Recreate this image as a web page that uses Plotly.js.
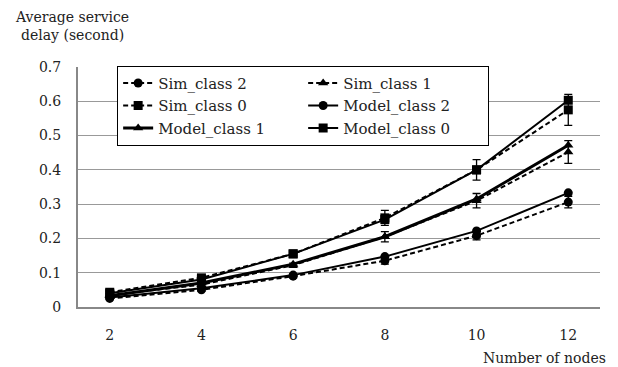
<!DOCTYPE html>
<html>
<head>
<meta charset="utf-8">
<script src="https://cdn.plot.ly/plotly-3.0.1.min.js"></script>
<style>html,body{margin:0;padding:0;background:#fff;}</style>
</head>
<body>
<div id="chart" style="width:618px;height:367px;"></div>
<script>
const nodes = ['2', '4', '6', '8', '10', '12'];
const simClass2 = [0.025, 0.050, 0.090, 0.135, 0.208, 0.306];
const simClass2Err = [0.003, 0.004, 0.005, 0.010, 0.012, 0.017];
const simClass1 = [0.035, 0.065, 0.122, 0.205, 0.310, 0.452];
const simClass1Err = [0.003, 0.004, 0.006, 0.015, 0.021, 0.033];
const simClass0 = [0.043, 0.085, 0.155, 0.260, 0.400, 0.575];
const simClass0Err = [0.003, 0.005, 0.006, 0.022, 0.030, 0.045];
const modelClass2 = [0.028, 0.055, 0.093, 0.147, 0.222, 0.333];
const modelClass1 = [0.033, 0.070, 0.125, 0.205, 0.315, 0.472];
const modelClass0 = [0.040, 0.080, 0.155, 0.255, 0.400, 0.603];

const FONT = 'DejaVu Serif';

function sim(name, y, err, symbol) {
  return {
    x: nodes, y: y, name: name, type: 'scatter', mode: 'lines+markers',
    line: {color: '#000', width: 2, dash: '5px,3px'},
    marker: {symbol: symbol, size: 9, color: '#000'},
    error_y: {type: 'data', array: err, visible: true, color: '#000', thickness: 1.3, width: 4}
  };
}
function model(name, y, symbol, w) {
  return {
    x: nodes, y: y, name: name, type: 'scatter', mode: 'lines+markers',
    line: {color: '#000', width: w},
    marker: {symbol: symbol, size: 9, color: '#000'}
  };
}

const data = [
  sim('Sim_class 2', simClass2, simClass2Err, 'circle'),
  sim('Sim_class 1', simClass1, simClass1Err, 'triangle-up'),
  sim('Sim_class 0', simClass0, simClass0Err, 'square'),
  model('Model_class 2', modelClass2, 'circle', 2),
  model('Model_class 1', modelClass1, 'triangle-up', 3),
  model('Model_class 0', modelClass0, 'square', 2)
];

const layout = {
  width: 618, height: 367,
  margin: {l: 78, r: 18, t: 67, b: 60},
  paper_bgcolor: '#fff', plot_bgcolor: '#fff',
  font: {family: FONT, size: 14, color: '#222'},
  showlegend: true,
  legend: {
    orientation: 'h', x: 0.075, xanchor: 'left', y: 1.005, yanchor: 'top',
    bgcolor: '#fff', bordercolor: '#000', borderwidth: 1,
    entrywidth: 140, entrywidthmode: 'pixels', traceorder: 'normal',
    font: {family: FONT, size: 15, color: '#222'}, tracegroupgap: 0
  },
  xaxis: {
    type: 'category', showgrid: false, showline: true, linecolor: '#888', linewidth: 2,
    ticks: '', ticklabelstandoff: 14, tickfont: {family: FONT, size: 14, color: '#222'},
    zeroline: false, fixedrange: true
  },
  yaxis: {
    range: [0, 0.7], dtick: 0.1, tick0: 0, showgrid: true, gridcolor: '#999', gridwidth: 1,
    showline: true, linecolor: '#888', linewidth: 2, ticks: '', zeroline: false,
    ticklabelstandoff: 12, tickfont: {family: FONT, size: 14, color: '#222'}, fixedrange: true
  },
  annotations: [
    {text: 'Average service<br>delay (second)', xref: 'paper', yref: 'paper', x: -0.125, y: 1.25,
     xanchor: 'left', yanchor: 'top', showarrow: false, align: 'center',
     font: {family: FONT, size: 14, color: '#222'}},
    {text: 'Number of nodes', xref: 'paper', yref: 'paper', x: 1.015, y: -0.17,
     xanchor: 'right', yanchor: 'top', showarrow: false,
     font: {family: FONT, size: 14, color: '#222'}}
  ]
};

Plotly.newPlot('chart', data, layout, {displayModeBar: false, staticPlot: true});
</script>
</body>
</html>
